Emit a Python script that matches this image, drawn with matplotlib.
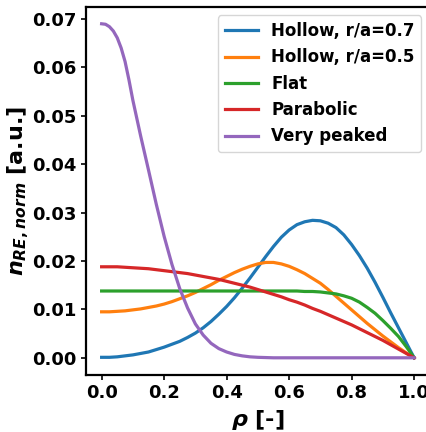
import matplotlib
matplotlib.use("Agg")
import matplotlib.pyplot as plt

# radial grid, shared by the first four profiles
rho = [0.0, 0.025, 0.05, 0.075, 0.1, 0.125, 0.15, 0.175, 0.2, 0.225,
       0.25, 0.275, 0.3, 0.325, 0.35, 0.375, 0.4, 0.425, 0.45, 0.475,
       0.5, 0.525, 0.55, 0.575, 0.6, 0.625, 0.65, 0.675, 0.7, 0.725,
       0.75, 0.775, 0.8, 0.825, 0.85, 0.875, 0.9, 0.925, 0.95, 0.975, 1.0]

hollow_07 = [0.0001, 0.0001, 0.0002, 0.0004, 0.0006, 0.0009, 0.0012, 0.0017, 0.0022, 0.0028,
             0.0034, 0.0042, 0.0051, 0.0062, 0.0075, 0.0090, 0.0106, 0.0124, 0.0144, 0.0165,
             0.0187, 0.0209, 0.0230, 0.0249, 0.0264, 0.0275, 0.0281, 0.0284, 0.0283, 0.0278,
             0.0269, 0.0254, 0.0234, 0.0211, 0.0185, 0.0156, 0.0125, 0.0093, 0.0062, 0.0031, 0.0]

hollow_05 = [0.0095, 0.0095, 0.0096, 0.0097, 0.0099, 0.0101, 0.0104, 0.0107, 0.0111, 0.0116,
             0.0122, 0.0128, 0.0135, 0.0143, 0.0151, 0.0160, 0.0168, 0.0176, 0.0183, 0.0189,
             0.0194, 0.0197, 0.0197, 0.0194, 0.0189, 0.0182, 0.0174, 0.0164, 0.0154, 0.0141,
             0.0127, 0.0113, 0.0099, 0.0085, 0.0071, 0.0058, 0.0045, 0.0033, 0.0021, 0.0010, 0.0]

flat = [0.0138, 0.0138, 0.0138, 0.0138, 0.0138, 0.0138, 0.0138, 0.0138, 0.0138, 0.0138,
        0.0138, 0.0138, 0.0138, 0.0138, 0.0138, 0.0138, 0.0138, 0.0138, 0.0138, 0.0138,
        0.0138, 0.0138, 0.0138, 0.0138, 0.0138, 0.0138, 0.0137, 0.0137, 0.0136, 0.0134,
        0.0132, 0.0128, 0.0123, 0.0115, 0.0104, 0.0092, 0.0077, 0.0061, 0.0044, 0.0023, 0.0]

parabolic = [0.0188, 0.0188, 0.0188, 0.0187, 0.0186, 0.0185, 0.0184, 0.0182, 0.0180, 0.0178,
             0.0176, 0.0174, 0.0171, 0.0168, 0.0165, 0.0162, 0.0158, 0.0154, 0.0150, 0.0146,
             0.0141, 0.0136, 0.0131, 0.0126, 0.0120, 0.0115, 0.0109, 0.0102, 0.0096, 0.0089,
             0.0082, 0.0075, 0.0068, 0.0060, 0.0052, 0.0044, 0.0036, 0.0027, 0.0018, 0.0009, 0.0]

# peaked profile needs a finer grid near the axis
rho_peaked = [0.0, 0.0125, 0.025, 0.0375, 0.05, 0.0625, 0.075, 0.0875, 0.1, 0.1125,
              0.125, 0.1375, 0.15, 0.175, 0.2, 0.225, 0.25, 0.275, 0.3, 0.325,
              0.35, 0.375, 0.4, 0.425, 0.45, 0.475, 0.5, 0.55, 0.6, 0.7, 0.8, 0.9, 1.0]
very_peaked = [0.0690, 0.0689, 0.0684, 0.0675, 0.0661, 0.0640, 0.0612, 0.0574, 0.0532, 0.0495,
               0.0458, 0.0423, 0.0388, 0.0317, 0.0251, 0.0193, 0.0143, 0.0103, 0.0070, 0.0047,
               0.0030, 0.0019, 0.0012, 0.0007, 0.0004, 0.0002,
               0.0001, 0.0, 0.0, 0.0, 0.0, 0.0, 0.0]

labels = ["Hollow, r/a=0.7", "Hollow, r/a=0.5", "Flat", "Parabolic", "Very peaked"]

plt.rcParams["font.weight"] = "bold"
plt.rcParams["axes.labelweight"] = "bold"
plt.rcParams["mathtext.fontset"] = "custom"
plt.rcParams["mathtext.it"] = "DejaVu Sans:italic:bold"
plt.rcParams["mathtext.rm"] = "DejaVu Sans:bold"

fig = plt.figure(figsize=(4.27, 4.32), dpi=100)
ax = fig.add_axes([0.2014, 0.1331, 0.805, 0.8505])

xs = [rho, rho, rho, rho, rho_peaked]
profiles = [hollow_07, hollow_05, flat, parabolic, very_peaked]
for x, prof, lab in zip(xs, profiles, labels):
    ax.plot(x, prof, linewidth=2.3, label=lab)

ax.set_xticks([0.0, 0.2, 0.4, 0.6, 0.8, 1.0])
ax.set_yticks([0.0, 0.01, 0.02, 0.03, 0.04, 0.05, 0.06, 0.07])
ax.tick_params(labelsize=13, width=1.2)
for lab in ax.get_xticklabels() + ax.get_yticklabels():
    lab.set_fontweight("bold")
for sp in ax.spines.values():
    sp.set_linewidth(1.6)

ax.set_xlabel(r"$\rho$ [-]", fontsize=16)
ax.set_ylabel(r"$n_{RE,norm}$ [a.u.]", fontsize=16, labelpad=1)

ax.legend(loc="upper right", prop={"size": 12, "weight": "bold"})

fig.savefig("out.png", dpi=100)
